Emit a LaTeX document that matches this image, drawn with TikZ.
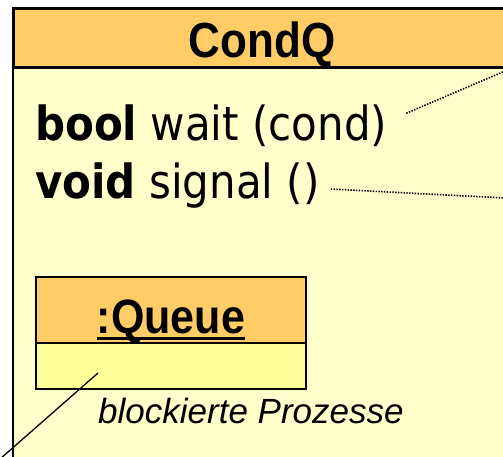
\documentclass[tikz,border=0pt]{standalone}
\usepackage{fontspec}
\setmainfont{Liberation Sans}
\newfontfamily\methfont{DejaVu Sans}
\usetikzlibrary{calc}

\definecolor{headorange}{HTML}{FFCC66}
\definecolor{classbody}{HTML}{FFFFCC}
\definecolor{slotbody}{HTML}{FFFF99}

% thick underline for object names
\newcommand{\objname}[1]{\setbox0\hbox{#1}\rlap{\usebox0}\rule[-7pt]{\wd0}{2.6pt}}
% slightly taller lettering
\newcommand{\tall}[1]{\scalebox{1}[1.12]{#1}}
% put the baseline #1 below the node centre
\newcommand{\drop}[2]{\raisebox{-#1}[0pt][0pt]{#2}}

\tikzset{
  classhead/.style={draw, line width=2.5pt, fill=headorange, inner sep=0pt,
    font=\fontsize{44}{50}\selectfont\bfseries},
  objhead/.style={draw, line width=2pt, fill=headorange, inner sep=0pt,
    font=\fontsize{43}{50}\selectfont\bfseries},
  objslot/.style={draw, line width=2pt, fill=slotbody, inner sep=0pt},
  method/.style={inner sep=0pt, anchor=base west, font=\methfont\fontsize{42}{50}\selectfont},
  note/.style={line width=1.6pt, dash pattern=on 1.4pt off 1.4pt},
  remark/.style={inner sep=0pt, anchor=base west, font=\fontsize{35}{40}\selectfont\itshape}
}

\begin{document}
\begin{tikzpicture}[x=1pt,y=1pt,yscale=-1]
\useasboundingbox (0,0) rectangle (503,456);
\clip (0,0) rectangle (503,456);

% class CondQ
\fill[white] (0,0) rectangle (503,456);
\draw[line width=2pt, fill=classbody] (13,66) rectangle (520,480);
\node[classhead, minimum width=498pt, minimum height=59pt, anchor=north west] (condq) at (12,7)
  {\drop{20pt}{\tall{CondQ}}};

% operations
\node[method] (wait) at (35,140) {\tall{\textbf{bool} wait (cond)}};
\node[method] (signal) at (35,198) {\tall{\textbf{void} signal ()}};

% contained object
\node[objhead, minimum width=270pt, minimum height=66pt, anchor=north west] (queue) at (35,276)
  {\drop{23pt}{\objname{\tall{:Queue}}}};
\node[objslot, minimum width=270pt, minimum height=46pt, anchor=north west] (slot) at (35,342) {};
\node[remark] (blocked) at (98,423) {blockierte Prozesse};

% notes
\coordinate (waitnote) at (505,71);
\coordinate (signalnote) at (505,198);
\coordinate (slotnote) at (0,459);
\draw[note] ($(wait.east)+(19,-12)$) -- (waitnote);
\draw[note] ($(signal.east)+(11,4)$) -- (signalnote);
\draw[line width=1.3pt] ($(slot.center)+(-73,7)$) -- (slotnote);

\end{tikzpicture}
\end{document}
